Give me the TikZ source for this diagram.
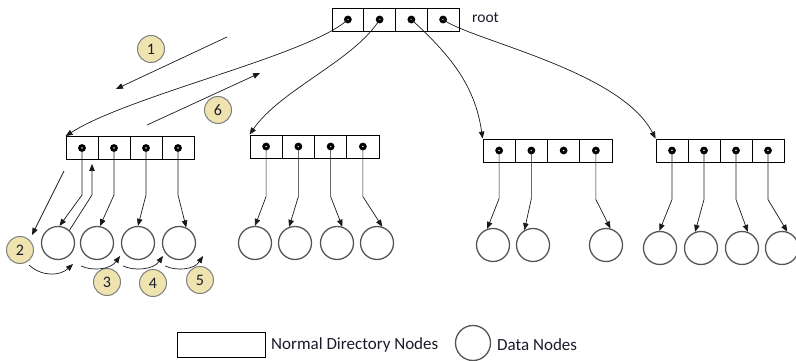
\documentclass[tikz,border=0pt]{standalone}
\usepackage{fontspec}
\setmainfont{Carlito}
\usetikzlibrary{arrows.meta,calc}
\definecolor{stepfill}{HTML}{EFE4B0}
\definecolor{stepdraw}{HTML}{7F7F7F}
\definecolor{txt}{HTML}{1A1A2A}
\definecolor{ringgray}{HTML}{555555}
\tikzset{
  cell/.style={draw=black, line width=0.8pt, rectangle, minimum height=23pt, inner sep=0pt},
  dotnode/.style={circle, draw=black, fill=white, line width=2.8pt, minimum size=4.8pt, inner sep=0pt},
  dnode/.style={circle, draw=ringgray, line width=1.3pt, minimum size=33pt, inner sep=0pt},
  arr/.style={draw=black!90, line width=0.7pt, -{Triangle[length=7pt,width=5.5pt]}},
  stepnum/.style={circle, fill=stepfill, draw=stepdraw, line width=1pt, minimum size=27pt, inner sep=0pt, font=\fontsize{16}{16}\selectfont, text=txt},
  lbl/.style={font=\fontsize{17}{17}\selectfont, text=txt, inner sep=0pt, anchor=west}
}
\newcommand\dirbox[4]{%
  \foreach \i in {1,...,4} {
    \node[cell, minimum width=#4pt] (#1c\i) at ({#2+(\i-0.5)*#4}, #3) {};
    \node[dotnode] (#1d\i) at (#1c\i.center) {};
  }}
\begin{document}
\begin{tikzpicture}[x=1pt, y=-1pt]
\useasboundingbox (0,0) rectangle (796,361);
% directory nodes
\dirbox{R}{332}{19.5}{31.75}
\dirbox{L}{66}{148}{32}
\dirbox{B}{250}{146.5}{32.25}
\dirbox{C}{483}{150.5}{32.25}
\dirbox{D}{656}{150.5}{32}
\node[lbl, font=\fontsize{15.5}{15.5}\selectfont] (rootlbl) at (472,18) {root};
% data nodes
\foreach \n/\x in {1/58, 2/97, 3/138, 4/179} \node[dnode] (La\n) at (\x,243) {};
\foreach \n/\x in {1/255, 2/295, 3/337, 4/377} \node[dnode] (Ba\n) at (\x,243) {};
\foreach \n/\x in {1/493, 2/533, 3/606} \node[dnode] (Ca\n) at (\x,245) {};
\foreach \n/\x in {1/660, 2/701, 3/742, 4/782} \node[dnode] (Da\n) at (\x,248) {};
% root to directories
\draw[arr] (Rd1.center) .. controls (310,55) and (130,95) .. (Lc1.north west);
\draw[arr] (Rd2.center) .. controls (355,60) and (280,90) .. (Bc1.north west);
\draw[arr] (Rd3.center) .. controls (450,55) and (475,85) .. (Cc1.north west);
\draw[arr] (Rd4.center) .. controls (470,40) and (620,70) .. (Dc1.north west);
% directories to data nodes
\foreach \d/\a in {1/85, 2/80, 3/90, 4/65} \draw[arr] (Ld\d.center) -- ++(0,47) -- (La\d.\a);
\foreach \d/\a in {1/90, 2/110, 3/72, 4/72} \draw[arr] (Bd\d.center) -- ++(0,50) -- (Ba\d.\a);
\draw[arr] (Cd1.center) -- ++(0,48) -- (Ca1.110);
\draw[arr] (Cd2.center) -- ++(0,48) -- (Ca2.120);
\draw[arr] (Cd4.center) -- ++(0,49) -- (Ca3.75);
\foreach \d/\a in {1/92, 2/110, 3/70, 4/72} \draw[arr] (Dd\d.center) -- ++(0,49) -- (Da\d.\a);
% return arrow from first data node
\draw[arr] (La1.48) -- ($(Lc1.south)+(10,35)$) -- ($(Lc1.south)+(10,4)$);
% step labels
\node[stepnum] (s1) at (151,49) {1};
\node[stepnum] (s2) at (20,250) {2};
\node[stepnum] (s3) at (107,282) {3};
\node[stepnum] (s4) at (153,283) {4};
\node[stepnum] (s5) at (200,280) {5};
\node[stepnum] (s6) at (218,110) {6};
% step arrows
\coordinate (a1s) at (227,37);
\coordinate (a1e) at (116,89);
\draw[arr] (a1s) -- (a1e);
\coordinate (a6s) at (147,125);
\coordinate (a6e) at (260,73);
\draw[arr] (a6s) -- (a6e);
\coordinate (a2s) at (64,171);
\coordinate (a2e) at (32,235);
\draw[arr] (a2s) -- (a2e);
% curved step arrows under data nodes
\coordinate (c2s) at (29,265);
\coordinate (c2e) at (73,264);
\draw[arr] (c2s) .. controls (42,277) and (60,276) .. (c2e);
\coordinate (c3s) at (81,266);
\coordinate (c3e) at (120,256);
\draw[arr] (c3s) .. controls (92,271) and (110,270) .. (c3e);
\coordinate (c4s) at (123,266);
\coordinate (c4e) at (163,256);
\draw[arr] (c4s) .. controls (134,271) and (153,270) .. (c4e);
\coordinate (c5s) at (165,266);
\coordinate (c5e) at (203,256);
\draw[arr] (c5s) .. controls (176,271) and (194,270) .. (c5e);
% legend
\node[cell, minimum width=88pt, minimum height=25pt] (legrect) at (221,344.5) {};
\node[lbl] (legrectt) at (271,345) {Normal Directory Nodes};
\node[dnode, minimum size=35pt] (legcirc) at (473,343) {};
\node[lbl] (legcirct) at (497,345) {Data Nodes};
\end{tikzpicture}
\end{document}
